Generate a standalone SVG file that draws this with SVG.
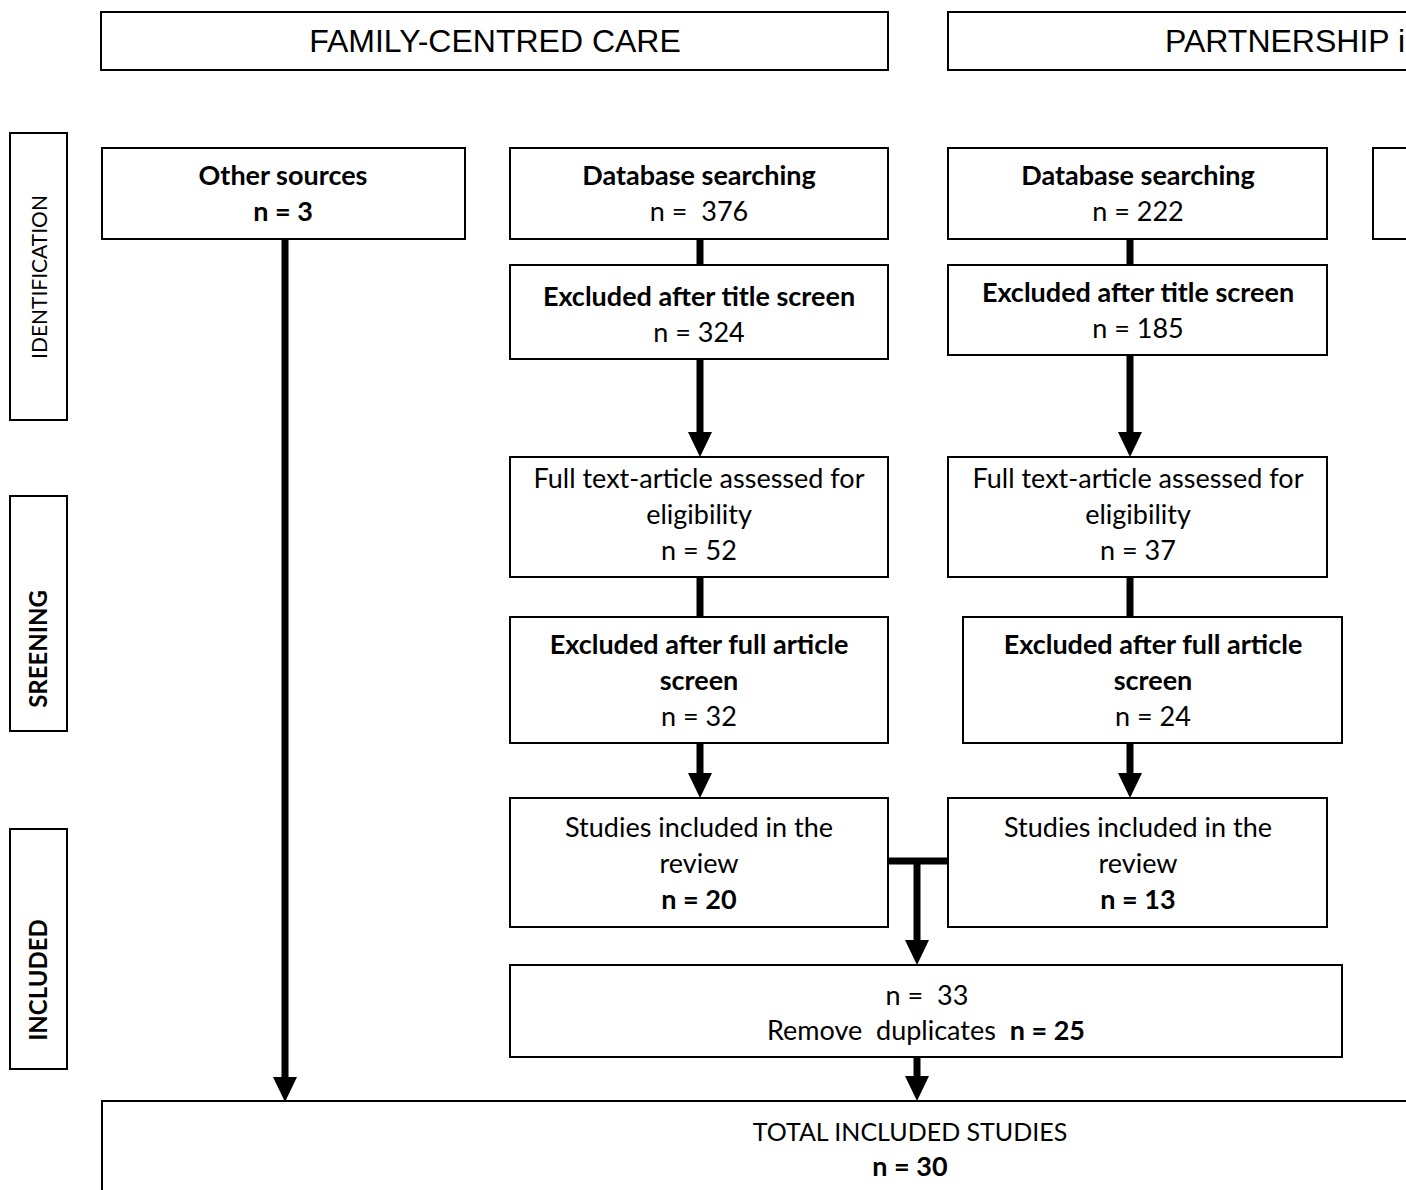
<svg xmlns="http://www.w3.org/2000/svg" width="1406" height="1190" viewBox="0 0 1406 1190">
<style>
.box{fill:#fff;stroke:#000;stroke-width:2}
.t{font-family:Lato,"Open Sans",sans-serif;font-size:27px;fill:#000;text-anchor:middle;white-space:pre}
.b{font-weight:bold}
.h{font-family:"Liberation Sans",Arial,sans-serif;font-size:32px;fill:#000;white-space:pre}
.c{fill:none;stroke:#000;stroke-width:7}
</style>
<defs>
<marker id="ah" markerUnits="userSpaceOnUse" markerWidth="26" markerHeight="24" refX="0" refY="12" orient="auto" viewBox="0 0 26 24">
<path d="M0,0 L25,12 L0,24 z" fill="#000"/>
</marker>
</defs>
<rect width="1406" height="1190" fill="#fff"/>

<g id="header-fcc"><rect class="box" x="101" y="12" width="787" height="58"/><text class="h" x="495" y="52" text-anchor="middle">FAMILY-CENTRED CARE</text></g>
<g id="header-partnership"><rect class="box" x="948" y="12" width="470" height="58"/><text class="h" x="1165" y="52">PARTNERSHIP i</text></g>

<g id="label-identification"><rect class="box" x="10" y="133" width="57" height="287"/><text class="t" transform="translate(47,277) rotate(-90)" style="font-size:21px">IDENTIFICATION</text></g>
<g id="label-screening"><rect class="box" x="10" y="496" width="57" height="235"/><text class="t b" transform="translate(47,649) rotate(-90)" style="font-size:24px">SREENING</text></g>
<g id="label-included"><rect class="box" x="10" y="829" width="57" height="240"/><text class="t b" transform="translate(47,980) rotate(-90)" style="font-size:24px">INCLUDED</text></g>

<g id="connectors">
<line class="c" x1="285" y1="239" x2="285" y2="1077" marker-end="url(#ah)"/>
<line class="c" x1="700" y1="239" x2="700" y2="265"/>
<line class="c" x1="700" y1="359" x2="700" y2="432" marker-end="url(#ah)"/>
<line class="c" x1="700" y1="577" x2="700" y2="617"/>
<line class="c" x1="700" y1="743" x2="700" y2="773" marker-end="url(#ah)"/>
<line class="c" x1="1130" y1="239" x2="1130" y2="265"/>
<line class="c" x1="1130" y1="355" x2="1130" y2="432" marker-end="url(#ah)"/>
<line class="c" x1="1130" y1="577" x2="1130" y2="617"/>
<line class="c" x1="1130" y1="743" x2="1130" y2="773" marker-end="url(#ah)"/>
<line class="c" x1="888" y1="861" x2="948" y2="861"/>
<line class="c" x1="917" y1="861" x2="917" y2="940" marker-end="url(#ah)"/>
<line class="c" x1="917" y1="1057" x2="917" y2="1076" marker-end="url(#ah)"/>
</g>

<g id="other-sources"><rect class="box" x="102" y="148" width="363" height="91"/><text class="t b" x="283" y="185">Other sources</text><text class="t b" x="283" y="221">n = 3</text></g>
<g id="db-search-1"><rect class="box" x="510" y="148" width="378" height="91"/><text class="t b" x="699" y="185">Database searching</text><text class="t" x="699" y="221">n =  376</text></g>
<g id="db-search-2"><rect class="box" x="948" y="148" width="379" height="91"/><text class="t b" x="1138" y="185">Database searching</text><text class="t" x="1138" y="221">n = 222</text></g>
<g id="other-right"><rect class="box" x="1373" y="148" width="50" height="91"/></g>

<g id="excl-title-1"><rect class="box" x="510" y="265" width="378" height="94"/><text class="t b" x="699" y="306">Excluded after title screen</text><text class="t" x="699" y="342">n = 324</text></g>
<g id="excl-title-2"><rect class="box" x="948" y="265" width="379" height="90"/><text class="t b" x="1138" y="302">Excluded after title screen</text><text class="t" x="1138" y="338">n = 185</text></g>

<g id="fulltext-1"><rect class="box" x="510" y="457" width="378" height="120"/><text class="t" x="699" y="488">Full text-article assessed for</text><text class="t" x="699" y="524">eligibility</text><text class="t" x="699" y="560">n = 52</text></g>
<g id="fulltext-2"><rect class="box" x="948" y="457" width="379" height="120"/><text class="t" x="1138" y="488">Full text-article assessed for</text><text class="t" x="1138" y="524">eligibility</text><text class="t" x="1138" y="560">n = 37</text></g>

<g id="excl-full-1"><rect class="box" x="510" y="617" width="378" height="126"/><text class="t b" x="699" y="654">Excluded after full article</text><text class="t b" x="699" y="690">screen</text><text class="t" x="699" y="726">n = 32</text></g>
<g id="excl-full-2"><rect class="box" x="963" y="617" width="379" height="126"/><text class="t b" x="1153" y="654">Excluded after full article</text><text class="t b" x="1153" y="690">screen</text><text class="t" x="1153" y="726">n = 24</text></g>

<g id="included-1"><rect class="box" x="510" y="798" width="378" height="129"/><text class="t" x="699" y="837">Studies included in the</text><text class="t" x="699" y="873">review</text><text class="t b" x="699" y="909">n = 20</text></g>
<g id="included-2"><rect class="box" x="948" y="798" width="379" height="129"/><text class="t" x="1138" y="837">Studies included in the</text><text class="t" x="1138" y="873">review</text><text class="t b" x="1138" y="909">n = 13</text></g>

<g id="merged"><rect class="box" x="510" y="965" width="832" height="92"/><text class="t" x="927" y="1005">n =  33</text><text class="t" x="926" y="1040">Remove  duplicates  <tspan class="b">n = 25</tspan></text></g>

<g id="total"><rect class="box" x="102" y="1101" width="1320" height="100"/><text class="t" x="910" y="1141" style="font-size:25px">TOTAL INCLUDED STUDIES</text><text class="t b" x="910" y="1176">n = 30</text></g>
</svg>
